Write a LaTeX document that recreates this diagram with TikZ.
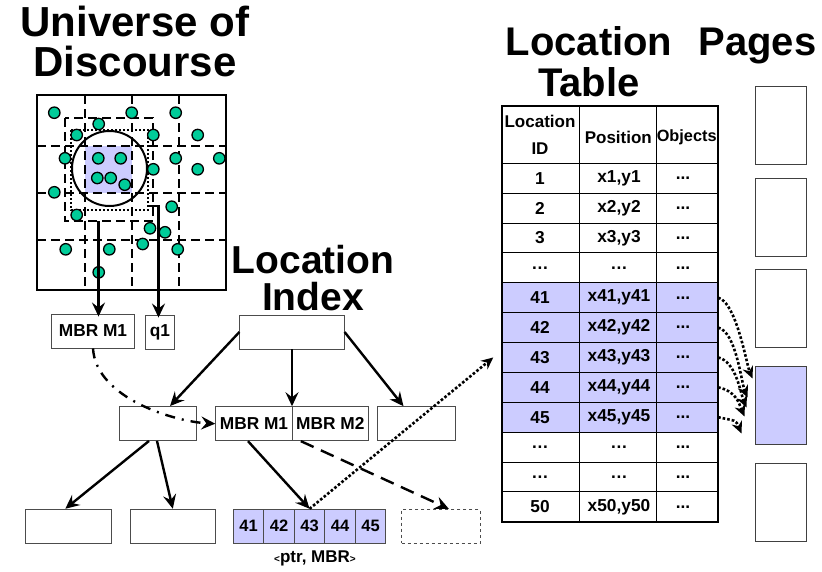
\documentclass[tikz,border=0pt]{standalone}
\usepackage{fontspec}
\setmainfont{Liberation Sans}
\usetikzlibrary{arrows.meta}
\definecolor{dotgreen}{RGB}{0,204,153}
\definecolor{selblue}{RGB}{204,204,255}

\begin{document}
\begin{tikzpicture}[x=1pt,y=-1pt,font=\bfseries,
  title/.style={font=\fontsize{40}{41.5}\selectfont\bfseries,align=center,anchor=base,inner sep=0pt},
  box/.style={draw=black!70,line width=0.9pt,inner sep=0pt,minimum height=34pt,font=\fontsize{17.3}{19}\selectfont\bfseries},
  rowbox/.style={draw=black,line width=0.9pt,inner sep=0pt,minimum width=216pt,minimum height=29.87pt},
  cell/.style={inner sep=0pt,font=\fontsize{17.3}{19}\selectfont\bfseries},
  page/.style={draw=black!75,line width=0.9pt,minimum width=51.7pt,minimum height=78pt,inner sep=0pt},
  gridline/.style={line width=2pt,dash pattern=on 9pt off 5pt},
  arr/.style={line width=2.4pt,-{Stealth[length=14pt,width=13pt,inset=5pt]}},
  dotarr/.style={line width=2.6pt,dotted,-{Stealth[length=12pt,width=11pt,inset=4pt]}}]

\useasboundingbox (0,0) rectangle (822,571);

\node[title,font=\fontsize{42}{40}\selectfont\bfseries] (univ) at (135,76) {Universe of\\Discourse};
\node[title] (ltab) at (589,96.7) {Location\\Table};
\node[title] (pages) at (757.5,55) {Pages};
\node[title,font=\fontsize{39}{37}\selectfont\bfseries] (lidx) at (313,310) {Location\\Index};

\begin{scope}
\fill[selblue] (85,145.7) rectangle (131.7,192.7);
\foreach \x in {85,131.7,179} \draw[gridline] (\x,95) -- (\x,290);
\foreach \y in {145.7,192.7,240} \draw[gridline] (37,\y) -- (226,\y);
\draw[gridline] (65,118) rectangle (153,221);
\draw[line width=2pt,dotted] (71,130) rectangle (148,210);
\draw[line width=2pt] (109.5,168.5) circle (37.5);
\draw[line width=2pt] (37,95) rectangle (226,290);
\foreach \x/\y in {54.3/112.7,131.7/112.7,175.7/112.7,98.7/124,76.7/135,153.3/135,197.7/135,
  65/158.3,98.3/158.3,120.7/158.3,175.7/158.3,219.3/158.3,197.7/169.3,153.3/169.3,
  97.3/178,110.7/178,124.7/184.7,54.3/192.3,171.7/206.7,76.7/215,150/228.3,165/232.3,
  142.7/244,65.7/249.3,109.3/249.3,177.7/249.3,98.7/272.3}{%
\draw[fill=dotgreen,line width=1.3pt] (\x,\y) circle (5.7);
}
\coordinate (mbrfrom) at (98.5,221);
\coordinate (qfrom) at (148,206);
\end{scope}

\node[box,minimum width=82.6pt] (mbr) at (93,331) {MBR M1};
\node[box,minimum width=28.3pt] (q1) at (160,332) {q1};
\node[box,minimum width=104.3pt] (root) at (292,332) {};
\node[box,minimum width=77.4pt] (midl) at (158,423.5) {};
\node[box,minimum width=76.6pt] (mid1) at (254,423.7) {MBR M1};
\node[box,minimum width=76pt] (mid2) at (330.3,423.7) {MBR M2};
\node[box,minimum width=77.6pt] (midr) at (416.5,423.7) {};
\node[box,minimum width=85.3pt] (leaf1) at (68.3,526.2) {};
\node[box,minimum width=85.7pt] (leaf2) at (172.8,526.2) {};
\foreach \n [count=\i] in {41,...,45}{%
\node[box,fill=selblue,minimum width=30.5pt,font=\fontsize{16.5}{18}\selectfont\bfseries] (c\n) at ({233.3+(\i-0.5)*30.5},526.2) {\n};
}
\node[box,dashed,line width=0.8pt,minimum width=78.3pt] (leafd) at (440.8,526.2) {};
\node (ptr) at (315,558) {\fontsize{10}{10}\selectfont<\fontsize{17}{17}\selectfont ptr, MBR\fontsize{10}{10}\selectfont>};

\node[cell,align=center,font=\fontsize{17}{27}\selectfont\bfseries] (hid) at (540,135) {Location\\ID};
\node[cell,font=\fontsize{17}{19}\selectfont\bfseries] (hpos) at (618.3,137) {Position};
\node[cell,font=\fontsize{16.3}{19}\selectfont\bfseries] (hobj) at (686.7,137) {Objects};
\foreach \i/\a/\b/\c in {1/1/{x1,y1}/white,2/2/{x2,y2}/white,3/3/{x3,y3}/white,4/\dots/\dots/white,
  5/41/{x41,y41}/selblue,6/42/{x42,y42}/selblue,7/43/{x43,y43}/selblue,8/44/{x44,y44}/selblue,
  9/45/{x45,y45}/selblue,10/\dots/\dots/white,11/\dots/\dots/white,12/50/{x50,y50}/white}{%
\node[rowbox,fill=\c] (r\i) at (609.7,{163.3+(\i-0.5)*29.87}) {};
\node[cell] (ra\i) at (540,{163.3+(\i-0.5)*29.87}) {\a};
\node[cell] (rb\i) at (619,{163.3+(\i-0.5)*29.87}) {\b};
\node[cell] (rc\i) at (683,{163.3+(\i-0.5)*29.87}) {...};
}
\draw[line width=1pt] (579.3,106) -- (579.3,521.7) (656.7,106) -- (656.7,521.7);
\draw[line width=2pt] (501.7,106) rectangle (717.7,521.7);

\foreach \i/\y/\c in {1/125.85/white,2/217.15/white,3/308/white,4/405.5/selblue,5/502.15/white}{%
\node[page,fill=\c] (p\i) at (780.85,\y) {};
}

\draw[arr] (mbrfrom) -- ([yshift=-3]mbrfrom |- mbr.north);
\draw[arr] (qfrom) -| ([xshift=-1.5,yshift=-3]q1.north);
\draw[arr] (root.west) -- ([xshift=12]midl.north);
\draw[arr] (root.south) -- (root.south |- mid1.north);
\draw[arr] (root.east) -- ([xshift=-13]midr.north);
\draw[arr] ([xshift=-9]midl.south) -- ([xshift=-3]leaf1.north);
\draw[arr] ([xshift=-1]midl.south) -- (leaf2.north);
\draw[arr] ([xshift=-6]mid1.south) -- (c43.north);
\draw[arr,dash pattern=on 14pt off 8pt] ([xshift=9]mid2.south west) -- ([xshift=8]leafd.north);
\draw[arr,dash pattern=on 10pt off 7pt on 2pt off 7pt] (mbr.south) .. controls +(3,50) and +(-40,-2) .. (mid1.west);
\draw[dotarr] (c43.north) -- ([xshift=-8]r7.west);
\foreach \r/\dx/\dy in {5/-2/-27,6/-7/-8,7/-8/2,8/-10/11,9/-13/28}{%
\draw[dotarr] (r\r.east) .. controls +(18,4) and +(-6,-14) .. ([shift={(\dx,\dy)}]p4.west);
}

\end{tikzpicture}
\end{document}
